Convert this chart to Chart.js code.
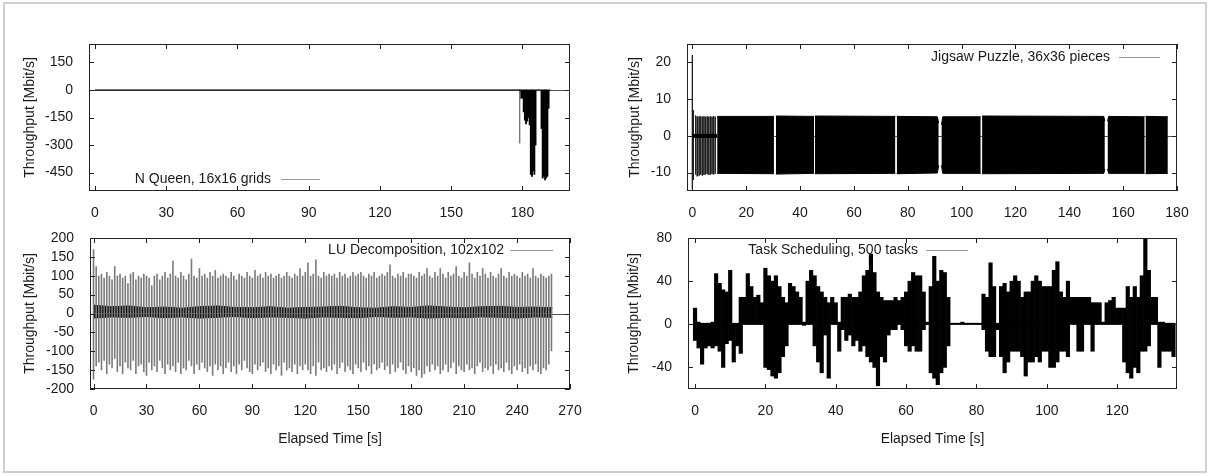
<!DOCTYPE html>
<html>
<head>
<meta charset="utf-8">
<script src="https://cdn.jsdelivr.net/npm/chart.js@4/dist/chart.umd.min.js"></script>
<style>
  html, body { margin: 0; padding: 0; background: #fff; }
  #page { position: relative; width: 1212px; height: 476px; overflow: hidden; }
  #frame { position: absolute; left: 3px; top: 2px; width: 1200px; height: 467px; border: 2px solid #d0d0d0; }
  canvas { position: absolute; left: 0; top: 0; }
</style>
</head>
<body>
<div id="page">
  <div id="frame"></div>
  <canvas id="nq" width="1212" height="476"></canvas>
  <canvas id="jig" width="1212" height="476"></canvas>
  <canvas id="lu" width="1212" height="476"></canvas>
  <canvas id="ts" width="1212" height="476"></canvas>
</div>
<script>
// ---- N Queen, 16x16 grids ----
const nqXTicks = [0, 30, 60, 90, 120, 150, 180];
const nqYTicks = [-450, -300, -150, 0, 150];
const nqBaseT = [0, 179];
const nqBaseV = [0, 0];
const nqT = [179.0, 179.5, 180.0, 180.5, 181.0, 181.5, 182.0, 182.5, 183.0, 183.5, 184.0, 184.5, 185.0,
             185.5, 186.0, 186.5, 187.0, 187.5, 188.0, 188.5, 189.0, 189.5, 190.0, 190.5, 191.0, 191.5];
const nqLo = [-5, -45, -45, -120, -165, -185, -170, -150, -190, -460, -470, -440, -460,
              -300, 0, 0, 0, 0, -210, -480, -470, -490, -480, -470, -100, 0];
const nqHi = [0, 0, 0, 0, 0, 0, 0, 0, 0, 0, 0, 0, 0, 0, 0, 0, 0, 0, 0, 0, 0, 0, 0, 0, 0, 0];
const nqSpikeT = [178.8];
const nqSpikeLo = [-290];
const nqSpikeHi = [0];

// ---- Jigsaw Puzzle, 36x36 pieces ----
const jigXTicks = [0, 20, 40, 60, 80, 100, 120, 140, 160, 180];
const jigYTicks = [-10, 0, 10, 20];
const jigSpikeT  = [0.0, 0.4, 1.2, 1.8, 2.5, 3.1, 3.7, 4.3, 4.9, 5.5, 6.1, 6.7, 7.3, 7.9, 8.5];
const jigSpikeHi = [22, 7, 5.5, 5.3, 5.3, 5.3, 5.2, 5.3, 5.2, 5.3, 5.2, 5.3, 5.2, 5.3, 5.2];
const jigSpikeLo = [-14.5, -12, -10.5, -11, -10.8, -10.5, -10.8, -10.6, -10.5, -10.4, -10.6, -10.5, -10.4, -10.5, -10.3];
const jigCoreT  = [0, 9.2];
const jigCoreHi = [0.4, 0.4];
const jigCoreLo = [-0.4, -0.4];
const jigT  = [9.2, 30.3, 30.6, 31.0, 45.2, 45.35, 45.5, 75.4, 75.6, 75.9, 91.0, 91.5, 92.1, 92.5, 93.0,
               107.1, 107.35, 107.6, 152.8, 153.2, 153.8, 154.2, 154.6, 168.0, 168.15, 168.3, 176.6];
const jigHi = [5.3, 5.3, null, 5.4, 5.3, null, 5.4, 5.3, null, 5.3, 5.2, 3.5, null, 3.0, 5.2,
               5.2, null, 5.4, 5.3, 4.0, null, 4.0, 5.3, 5.2, null, 5.3, 5.2];
const jigLo = [-10.2, -10.3, null, -10.4, -10.2, null, -10.3, -10.2, null, -10.3, -10.1, -8.0, null, -8.0, -10.2,
               -10.2, null, -10.3, -10.2, -9.0, null, -9.0, -10.2, -10.2, null, -10.3, -10.2];

// ---- LU Decomposition, 102x102 ----
const luXTicks = [0, 30, 60, 90, 120, 150, 180, 210, 240, 270];
const luYTicks = [-200, -150, -100, -50, 0, 50, 100, 150, 200];
const luBandT  = [0, 10, 20, 30, 40, 50, 60, 70, 80, 90, 100, 110, 120, 130, 140, 150, 160, 170, 180, 190, 200, 210, 220, 230, 240, 250, 260];
const luBandHi = [22, 18, 20, 15, 17, 14, 18, 20, 16, 15, 18, 14, 16, 17, 19, 15, 14, 18, 16, 20, 17, 15, 18, 19, 16, 17, 15];
const luBandLo = [-12, -9, -10, -8, -11, -9, -12, -10, -8, -11, -9, -10, -12, -9, -10, -11, -8, -10, -9, -12, -10, -11, -9, -10, -12, -9, -10];
const luSpikeT = [
  0, 1.5, 3, 4.5, 6, 7.5, 9, 10.5, 12, 13.5, 15, 16.5, 18, 19.5, 21, 22.5, 24, 25.5, 27, 28.5,
  30, 31.5, 33, 34.5, 36, 37.5, 39, 40.5, 42, 43.5, 45, 46.5, 48, 49.5, 51, 52.5, 54, 55.5, 57, 58.5,
  60, 61.5, 63, 64.5, 66, 67.5, 69, 70.5, 72, 73.5, 75, 76.5, 78, 79.5, 81, 82.5, 84, 85.5, 87, 88.5,
  90, 91.5, 93, 94.5, 96, 97.5, 99, 100.5, 102, 103.5, 105, 106.5, 108, 109.5, 111, 112.5, 114, 115.5, 117, 118.5,
  120, 121.5, 123, 124.5, 126, 127.5, 129, 130.5, 132, 133.5, 135, 136.5, 138, 139.5, 141, 142.5, 144, 145.5, 147, 148.5,
  150, 151.5, 153, 154.5, 156, 157.5, 159, 160.5, 162, 163.5, 165, 166.5, 168, 169.5, 171, 172.5, 174, 175.5, 177, 178.5,
  180, 181.5, 183, 184.5, 186, 187.5, 189, 190.5, 192, 193.5, 195, 196.5, 198, 199.5, 201, 202.5, 204, 205.5, 207, 208.5,
  210, 211.5, 213, 214.5, 216, 217.5, 219, 220.5, 222, 223.5, 225, 226.5, 228, 229.5, 231, 232.5, 234, 235.5, 237, 238.5,
  240, 241.5, 243, 244.5, 246, 247.5, 249, 250.5, 252, 253.5, 255, 256.5, 258, 259.5];
const luSpikeHi = [
  170, 125, 100, 105, 95, 110, 100, 90, 125, 100, 105, 95, 100, 80, 105, 110, 90, 100, 95, 105,
  100, 95, 75, 100, 105, 90, 100, 110, 95, 105, 140, 100, 95, 110, 100, 90, 105, 145, 100, 95,
  120, 100, 105, 95, 110, 100, 115, 95, 100, 105, 100, 95, 110, 100, 90, 105, 100, 95, 110, 100,
  95, 115, 100, 105, 95, 110, 100, 105, 95, 100, 105, 95, 100, 110, 100, 95, 105, 100, 120, 100,
  110, 135, 100, 105, 143, 100, 95, 110, 100, 105, 100, 105, 95, 110, 100, 105, 95, 100, 110, 100,
  105, 110, 100, 95, 105, 100, 110, 95, 100, 105, 100, 110, 130, 100, 95, 105, 100, 110, 95, 105,
  105, 100, 95, 110, 100, 105, 120, 100, 95, 110, 100, 120, 105, 95, 110, 100, 105, 125, 100, 95,
  110, 100, 135, 105, 95, 110, 100, 120, 105, 95, 110, 100, 95, 105, 120, 100, 95, 110, 100, 105,
  100, 95, 110, 100, 105, 95, 120, 100, 95, 105, 100, 95, 100, 105];
const luSpikeLo = [
  -175, -140, -130, -150, -125, -160, -135, -145, -120, -155, -140, -160, -130, -145, -150, -125, -160, -140, -135, -155,
  -165, -130, -150, -140, -155, -125, -145, -160, -135, -150, -140, -155, -130, -160, -145, -150, -125, -140, -160, -135,
  -150, -130, -145, -155, -140, -165, -135, -150, -140, -160, -145, -130, -155, -140, -160, -135, -150, -125, -145, -155,
  -160, -135, -150, -140, -130, -155, -145, -160, -135, -150, -140, -165, -130, -150, -145, -155, -135, -160, -140, -150,
  -135, -150, -160, -140, -165, -130, -150, -145, -155, -140, -150, -135, -160, -145, -130, -155, -140, -150, -160, -135,
  -145, -155, -130, -150, -140, -160, -135, -150, -145, -130, -150, -140, -160, -135, -155, -145, -130, -150, -160, -140,
  -155, -145, -165, -150, -170, -160, -140, -155, -135, -150, -140, -160, -150, -135, -155, -145, -130, -160, -140, -150,
  -155, -135, -150, -145, -160, -140, -130, -155, -145, -150, -140, -160, -135, -150, -145, -155, -130, -150, -160, -140,
  -150, -135, -155, -145, -160, -140, -150, -135, -155, -160, -145, -150, -135, -100];

// ---- Task Scheduling, 500 tasks ----
const tsXTicks = [0, 20, 40, 60, 80, 100, 120];
const tsYTicks = [-40, 0, 40, 80];
const tsT = [
  0, 1, 2, 3, 4, 5, 6, 7, 8, 9, 10, 11, 12, 13, 14, 15, 16, 17, 18, 19,
  20, 21, 22, 23, 24, 25, 26, 27, 28, 29, 30, 31, 32, 33, 34, 35, 36, 37, 38, 39,
  40, 41, 42, 43, 44, 45, 46, 47, 48, 49, 50, 51, 52, 53, 54, 55, 56, 57, 58, 59,
  60, 61, 62, 63, 64, 65, 66, 67, 68, 69, 70, 71, 72, 73, 74, 75, 76, 77, 78, 79,
  80, 81, 82, 83, 84, 85, 86, 87, 88, 89, 90, 91, 92, 93, 94, 95, 96, 97, 98, 99,
  100, 101, 102, 103, 104, 105, 106, 107, 108, 109, 110, 111, 112, 113, 114, 115, 116, 117, 118, 119,
  120, 121, 122, 123, 124, 125, 126, 127, 128, 129, 130, 131, 132, 133, 134, 135, 136];
const tsHi = [
  15, 2, 1, 1, 1, 2, 47, 38, 32, 30, 50, 1, 1, 25, 25, 47, 35, 25, 27, 20,
  52, 45, 40, 45, 35, 25, 20, 38, 35, 30, 25, 2, 40, 50, 45, 35, 30, 25, 20, 25,
  20, 2, 25, 25, 28, 25, 25, 30, 45, 50, 65, 48, 30, 25, 22, 22, 22, 25, 22, 25,
  30, 40, 48, 45, 45, 30, 2, 35, 63, 40, 50, 48, 25, 1, 1, 1, 2, 1, 1, 1,
  1, 1, 28, 25, 57, 35, 1, 35, 38, 30, 40, 45, 40, 25, 30, 30, 40, 45, 40, 35,
  35, 35, 50, 58, 30, 25, 40, 25, 25, 25, 25, 25, 25, 20, 20, 20, 2, 20, 22, 25,
  15, 15, 15, 35, 25, 35, 25, 45, 80, 50, 25, 25, 2, 2, 1, 1, 1];
const tsLo = [
  -15, -22, -37, -22, -20, -22, -20, -25, -40, -18, -15, -35, -20, -27, 0, 0, 0, 0, 0, 0,
  -40, -42, -48, -50, -45, -30, -20, 0, 0, 0, 0, -1, 0, 0, -20, -35, -45, -10, -50, 0,
  0, -25, -5, -15, -10, -20, -15, -25, -20, -30, -35, -40, -57, -30, -35, -10, -5, -5, 0, -5,
  -20, -25, -20, -25, -25, -5, 0, -45, -50, -56, -45, -40, -20, 0, 0, 0, 0, 0, 0, 0,
  0, 0, -5, -25, -30, -30, -5, -30, -45, -35, -25, -25, -25, -30, -48, -35, -35, -30, -35, -25,
  -25, -40, -40, -35, -25, -25, -30, 0, 0, -25, -25, 0, 0, -25, 0, 0, 0, 0, 0, 0,
  0, 0, -35, -45, -50, -40, -45, -25, -25, -20, 0, 0, -40, -25, -25, -25, -30];

// ---------------------------------------------------------------
const FS = 14;
const FONT = '"Liberation Sans", Arial, Helvetica, sans-serif';
const LH = FS * 1.2;
Chart.defaults.font.family = FONT;
Chart.defaults.font.size = FS;
Chart.defaults.color = '#1a1a1a';
Chart.defaults.animation = false;

const pts = (times, vals) => times.map((t, i) => ({x: t, y: vals[i]}));

function barEnv(times, lo, hi, color) {
  return {
    type: 'bar',
    data: times.map((t, i) => ({x: t, y: [lo[i], hi[i]]})),
    backgroundColor: color, borderWidth: 0,
    barPercentage: 1, categoryPercentage: 1, grouped: false
  };
}

function lineEnv(times, vals, color) {
  return {
    type: 'line', data: pts(times, vals),
    borderColor: color, backgroundColor: color, borderWidth: 1,
    pointRadius: 0, fill: 'origin', spanGaps: false, tension: 0
  };
}

function spikes(times, lo, hi, color, width) {
  return {
    type: 'line',
    data: times.flatMap((t, i) => [{x: t, y: hi[i]}, {x: t, y: lo[i]}, {x: t, y: null}]),
    borderColor: color, borderWidth: width || 1, pointRadius: 0, fill: false, spanGaps: false
  };
}

// gnuplot-like box, inward mirrored ticks, zero axis and key
const gpFrame = {
  id: 'gpFrame',
  beforeDatasetsDraw(chart) {
    const {ctx, chartArea: a, scales: {y}} = chart;
    const y0 = Math.round(y.getPixelForValue(0)) + 0.5;
    ctx.save();
    ctx.strokeStyle = '#555';
    ctx.lineWidth = 1;
    ctx.beginPath();
    ctx.moveTo(a.left, y0);
    ctx.lineTo(a.right, y0);
    ctx.stroke();
    ctx.restore();
  },
  afterDraw(chart, args, opts) {
    const {ctx, chartArea: a, scales: {x, y}} = chart;
    ctx.save();
    ctx.strokeStyle = '#222';
    ctx.lineWidth = 1;
    ctx.strokeRect(a.left + 0.5, a.top + 0.5, a.right - a.left - 1, a.bottom - a.top - 1);
    ctx.beginPath();
    x.ticks.forEach(t => {
      const p = Math.round(x.getPixelForValue(t.value)) + 0.5;
      ctx.moveTo(p, a.bottom); ctx.lineTo(p, a.bottom - 5);
      ctx.moveTo(p, a.top); ctx.lineTo(p, a.top + 5);
    });
    y.ticks.forEach(t => {
      const p = Math.round(y.getPixelForValue(t.value)) + 0.5;
      ctx.moveTo(a.left, p); ctx.lineTo(a.left + 5, p);
      ctx.moveTo(a.right, p); ctx.lineTo(a.right - 5, p);
    });
    ctx.stroke();

    const k = opts.key;
    ctx.font = FS + 'px ' + FONT;
    ctx.fillStyle = '#1a1a1a';
    ctx.textAlign = 'right';
    ctx.textBaseline = 'middle';
    ctx.fillText(k.text, k.textRight, k.y);
    ctx.strokeStyle = '#9a9a9a';
    ctx.beginPath();
    ctx.moveTo(k.x1, k.y + 0.5);
    ctx.lineTo(k.x2, k.y + 0.5);
    ctx.stroke();
    ctx.restore();
  }
};

function panel(id, p) {
  const padLeft = p.yTitleX - LH / 2 - 2;
  const yW = p.area.l - padLeft;
  const padBottom = p.xTitleY ? 476 - (p.xTitleY + LH / 2 + 2) : 476 - p.area.b - 40;
  const xH = 476 - padBottom - p.area.b;
  return new Chart(document.getElementById(id), {
    type: 'line',
    data: {datasets: p.datasets},
    plugins: [gpFrame],
    options: {
      responsive: false,
      devicePixelRatio: 1,
      layout: {padding: {left: padLeft, top: p.area.t, right: 1212 - p.area.r, bottom: padBottom}},
      plugins: {legend: {display: false}, tooltip: {enabled: false}, gpFrame: {key: p.key}},
      scales: {
        x: {
          type: 'linear', min: p.xMin, max: p.xMax, offset: false,
          grid: {display: false}, border: {display: false},
          ticks: {padding: 6, maxRotation: 0, autoSkip: false, callback: v => String(v)},
          afterBuildTicks: s => { s.ticks = p.xTicks.map(v => ({value: v})); },
          afterFit: s => { s.height = xH; },
          title: {display: !!p.xTitleY, text: 'Elapsed Time [s]', padding: {top: 2, bottom: 2}}
        },
        y: {
          type: 'linear', min: p.yMin, max: p.yMax,
          grid: {display: false}, border: {display: false},
          ticks: {padding: 8, autoSkip: false, callback: v => String(v)},
          afterBuildTicks: s => { s.ticks = p.yTicks.map(v => ({value: v})); },
          afterFit: s => { s.width = yW; },
          title: {display: true, text: 'Throughput [Mbit/s]', padding: {top: 2, bottom: 2}}
        }
      }
    }
  });
}

panel('nq', {
  area: {l: 89, t: 44, r: 570, b: 191}, yTitleX: 30,
  xMin: -2.5, xMax: 200, yMin: -550, yMax: 250, xTicks: nqXTicks, yTicks: nqYTicks,
  key: {text: 'N Queen, 16x16 grids', textRight: 271, x1: 281, x2: 320, y: 179},
  datasets: [
    {type: 'line', data: pts(nqBaseT, nqBaseV), borderColor: '#000', borderWidth: 1, pointRadius: 0, fill: false},
    barEnv(nqT, nqLo, nqHi, '#000'),
    spikes(nqSpikeT, nqSpikeLo, nqSpikeHi, '#777')
  ]
});

panel('jig', {
  area: {l: 687, t: 44, r: 1177, b: 191}, yTitleX: 635,
  xMin: -2, xMax: 180, yMin: -15, yMax: 25, xTicks: jigXTicks, yTicks: jigYTicks,
  key: {text: 'Jigsaw Puzzle, 36x36 pieces', textRight: 1110, x1: 1119, x2: 1160, y: 57},
  datasets: [
    lineEnv(jigT, jigHi, '#000'),
    lineEnv(jigT, jigLo, '#000'),
    lineEnv(jigCoreT, jigCoreHi, '#000'),
    lineEnv(jigCoreT, jigCoreLo, '#000'),
    spikes(jigSpikeT, jigSpikeLo, jigSpikeHi, '#222')
  ]
});

panel('lu', {
  area: {l: 90, t: 238, r: 570, b: 389}, yTitleX: 30, xTitleY: 439,
  xMin: -2, xMax: 270, yMin: -200, yMax: 200, xTicks: luXTicks, yTicks: luYTicks,
  key: {text: 'LU Decomposition, 102x102', textRight: 504, x1: 510, x2: 553, y: 250},
  datasets: [
    spikes(luSpikeT, luSpikeLo, luSpikeHi, '#7a7a7a', 1.6),
    lineEnv(luBandT, luBandHi, '#000'),
    lineEnv(luBandT, luBandLo, '#000')
  ]
});

panel('ts', {
  area: {l: 688, t: 238, r: 1177, b: 389}, yTitleX: 634, xTitleY: 439,
  xMin: -2, xMax: 137, yMin: -60, yMax: 80, xTicks: tsXTicks, yTicks: tsYTicks,
  key: {text: 'Task Scheduling, 500 tasks', textRight: 918, x1: 926, x2: 968, y: 250},
  datasets: [
    barEnv(tsT, tsLo, tsHi, '#000')
  ]
});
</script>
</body>
</html>
